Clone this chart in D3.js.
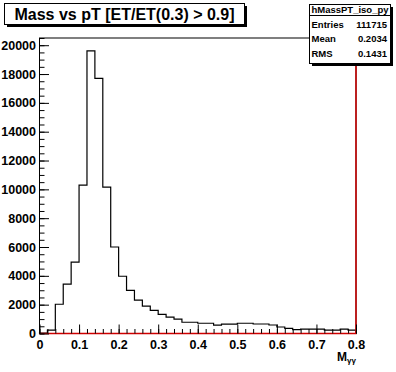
<!DOCTYPE html>
<html>
<head>
<meta charset="utf-8">
<script src="https://cdn.jsdelivr.net/npm/d3@7"></script>
<style>
  body { margin: 0; background: #fff; }
  svg text { font-family: "Liberation Sans", Arial, sans-serif; font-weight: bold; }
</style>
</head>
<body>
<div class="chart"></div>
<script>
// bin contents, 40 bins from 0 to 0.8
const counts = [30, 230, 2030, 3430, 4950, 10300, 19600, 17700, 10150, 6000,
                3970, 2990, 2310, 1900, 1600, 1330, 1140, 1000, 780, 780,
                710, 710, 580, 650, 650, 710, 710, 660, 660, 590,
                450, 360, 265, 310, 310, 310, 240, 240, 310, 240];
const xRange = [0, 0.8];
const yMax = 20500;
const xMajor = [0, 0.1, 0.2, 0.3, 0.4, 0.5, 0.6, 0.7, 0.8];
const yMajor = [0, 2000, 4000, 6000, 8000, 10000, 12000, 14000, 16000, 18000, 20000];
const titleText = "Mass vs pT [ET/ET(0.3) > 0.9]";
const histName = "hMassPT_iso_py";
const statLabels = ["Entries", "Mean", "RMS"];
const statValues = ["111715", "0.2034", "0.1431"];

const W = 396, H = 372;
const margin = { top: 38, right: 40, bottom: 38.5, left: 39.5 };

const svg = d3.select(".chart").append("svg")
    .attr("width", W).attr("height", H);

const x = d3.scaleLinear().domain(xRange).range([margin.left, W - margin.right]);
const y = d3.scaleLinear().domain([0, yMax]).range([H - margin.bottom, margin.top]);

const binW = (xRange[1] - xRange[0]) / counts.length;

// frame
svg.append("rect")
    .attr("x", x(xRange[0])).attr("y", y(yMax))
    .attr("width", x(xRange[1]) - x(xRange[0]))
    .attr("height", y(0) - y(yMax))
    .attr("fill", "#fff").attr("stroke", "#000").attr("stroke-width", 1);

// histogram outline
const pts = [[x(xRange[0]), y(0)]];
counts.forEach((c, i) => {
    pts.push([x(i * binW), y(c)]);
    pts.push([x((i + 1) * binW), y(c)]);
});
pts.push([x(xRange[1]), y(0)]);

svg.append("path")
    .attr("d", d3.line()(pts))
    .attr("fill", "none")
    .attr("stroke", "#000")
    .attr("stroke-width", 1.2);

// red lines on bottom and right edge
svg.append("path")
    .attr("d", d3.line()([[x(xRange[0]), y(0)], [x(xRange[1]), y(0)], [x(xRange[1]), y(yMax)]]))
    .attr("fill", "none").attr("stroke", "#d00000").attr("stroke-width", 1.5);

// axes
const xMinor = d3.range(0, 41).map(i => i * 0.02);
const yMinor = d3.range(0, 42).map(i => i * 500);

svg.append("g")
    .attr("transform", `translate(0,${y(0)})`)
    .call(d3.axisBottom(x).tickValues(xMinor).tickSize(-4.5).tickFormat(""))
    .call(g => g.select(".domain").remove());

svg.append("g")
    .attr("transform", `translate(0,${y(0)})`)
    .call(d3.axisBottom(x).tickValues(xMajor).tickSize(-9).tickPadding(6.5)
        .tickFormat(d => d === 0 ? "0" : d3.format(".1f")(d)))
    .call(g => g.select(".domain").remove())
    .call(g => g.selectAll("text").attr("font-size", 12.5).attr("fill", "#000")
        .attr("font-family", null));

svg.append("g")
    .attr("transform", `translate(${x(0)},0)`)
    .call(d3.axisLeft(y).tickValues(yMinor.filter(v => v <= yMax)).tickSize(-5).tickFormat(""))
    .call(g => g.select(".domain").remove());

svg.append("g")
    .attr("transform", `translate(${x(0)},0)`)
    .call(d3.axisLeft(y).tickValues(yMajor).tickSize(-9.5).tickPadding(3.5).tickFormat(d3.format("d")))
    .call(g => g.select(".domain").remove())
    .call(g => g.selectAll("text").attr("font-size", 12.5).attr("fill", "#000")
        .attr("font-family", null));

svg.selectAll(".tick line").attr("stroke", "#000");

// x axis title
const xt = svg.append("text")
    .attr("x", x(xRange[1])).attr("y", 360.7)
    .attr("text-anchor", "end")
    .attr("font-size", 12);
xt.append("tspan").text("M");
xt.append("tspan").attr("font-size", 8).attr("dy", 2).text("γγ");

// title box
function pave(x0, y0, w, h) {
    svg.append("rect").attr("x", x0 + 2.5).attr("y", y0 + 2.5)
        .attr("width", w).attr("height", h).attr("fill", "#000");
    svg.append("rect").attr("x", x0).attr("y", y0)
        .attr("width", w).attr("height", h)
        .attr("fill", "#fff").attr("stroke", "#000").attr("stroke-width", 1);
}

pave(4.5, 3.5, 240, 21);
svg.append("text")
    .attr("x", 124.5).attr("y", 19.5)
    .attr("text-anchor", "middle")
    .attr("font-size", 16)
    .text(titleText);

// stats box
pave(309.5, 4.5, 81, 59);
svg.append("line")
    .attr("x1", 309.5).attr("x2", 390.5).attr("y1", 15.5).attr("y2", 15.5)
    .attr("stroke", "#000");
svg.append("text")
    .attr("x", 350).attr("y", 12.5)
    .attr("text-anchor", "middle")
    .attr("font-size", 9.5)
    .text(histName);

statLabels.forEach((lab, i) => {
    const by = 28 + i * 14.3;
    svg.append("text").attr("x", 311.5).attr("y", by)
        .attr("font-size", 9.5).text(lab);
    svg.append("text").attr("x", 387).attr("y", by)
        .attr("text-anchor", "end")
        .attr("font-size", 9.5).text(statValues[i]);
});
</script>
</body>
</html>
